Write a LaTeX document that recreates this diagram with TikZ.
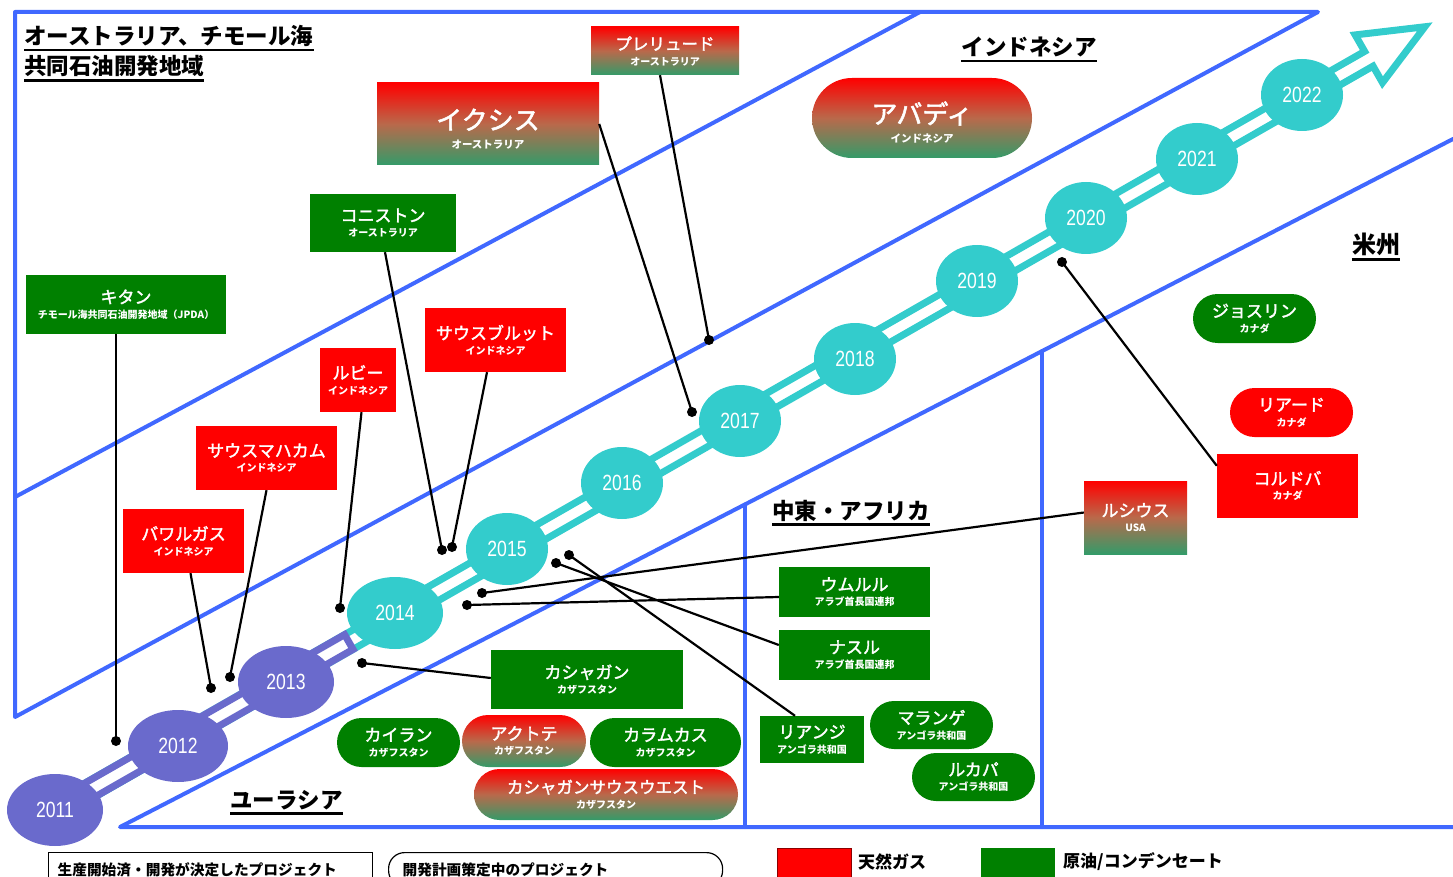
\documentclass[tikz,border=0pt]{standalone}
\usepackage{fontspec}
\setmainfont{Noto Sans CJK JP}
\newfontfamily\jpmed[FakeBold=2]{Noto Sans CJK JP}
\newfontfamily\yrfont[FakeStretch=0.8]{Liberation Sans}
\usetikzlibrary{shapes.geometric,shapes.misc,calc}
\definecolor{bl}{RGB}{64,104,255}
\definecolor{cy}{RGB}{51,204,204}
\definecolor{pu}{RGB}{106,106,204}
\definecolor{gasred}{RGB}{255,0,0}
\definecolor{oilgreen}{RGB}{0,128,0}
\definecolor{mixgreen}{RGB}{52,155,105}
\definecolor{mixmid}{RGB}{185,105,75}
\definecolor{dred}{RGB}{140,0,0}
\newcommand\plab[3][17]{{\jpmed\fontsize{#1}{#1}\selectfont #2}\\[3pt]{\bfseries\fontsize{10}{12}\selectfont #3}}
\newcommand\plabbig[2]{{\rule{0pt}{31pt}\jpmed\fontsize{26}{26}\selectfont #1}\\[7pt]{\bfseries\fontsize{10.5}{12}\selectfont #2}}
\newcommand\regfont{\bfseries\fontsize{22.5}{24}\selectfont}
\begin{document}
\begin{tikzpicture}[x=1pt,y=-1pt,
  blu/.style={draw=bl, line width=4pt, line cap=round, line join=round},
  bx/.style={inner sep=0pt, align=center, text=white},
  gas/.style={bx, fill=gasred},
  oil/.style={bx, fill=oilgreen},
  mix/.style={bx, top color=gasred, bottom color=mixgreen, middle color=mixmid},
  pill/.style={rounded rectangle},
  yrc/.style={ellipse, inner sep=0pt, text=white, minimum height=72pt, font=\yrfont\fontsize{22}{22}\selectfont},
  con/.style={draw=black, line width=2.2pt},
  reg/.style={inner sep=0pt, font=\regfont},
  ul/.style={draw=black, line width=2.2pt},
  lgbox/.style={draw=black, line width=1.2pt, minimum height=34pt, text width=306pt, inner ysep=0pt, align=left, anchor=north west, font=\bfseries\fontsize{14.7}{16}\selectfont},
  lgt/.style={inner sep=0pt, anchor=west, font=\bfseries\fontsize{17}{18}\selectfont}
]
\useasboundingbox (0,0) rectangle (1453,877);
\clip (0,0) rectangle (1453,877);

% region borders
\draw[blu] (920,12) -- (15,497);
\draw[blu] (1318,12) -- (15,12) -- (15,717) -- cycle;
\draw[blu] (1453,139) -- (120,827) -- (1453,827);
\draw[blu] (745,504.5) -- (745,827);
\draw[blu] (1042,351) -- (1042,827);

% timeline arrow
\begin{scope}[shift={(55,810)}, rotate=29.76]
  \draw[draw=cy, fill=white, line width=7pt, line join=miter]
    (-10,8.5) -- (1513.5,8.5) -- (1513.5,27.5) -- (1578,0) -- (1513.5,-27.5) -- (1513.5,-8.5) -- (-10,-8.5) -- cycle;
  \draw[draw=pu, fill=white, line width=7pt] (-10,8.5) rectangle (338.5,-8.5);
\end{scope}

\foreach \n/\x/\y/\c/\r in {2011/55/810/pu/48, 2012/178/746/pu/50, 2013/286/682/pu/48,
  2014/395/613/cy/48, 2015/507/549/cy/41, 2016/622/483/cy/41, 2017/740/421/cy/41,
  2018/855/359/cy/41, 2019/977/281/cy/41, 2020/1086/218/cy/41, 2021/1197/159/cy/41, 2022/1302/95/cy/41}
  \node[yrc, fill=\c, minimum width=2*\r] (y\n) at (\x,\y) {\n};

% region labels
\node[reg, anchor=base west] (t1) at (24,44.5) {オーストラリア、チモール海};
\node[reg, anchor=base west] (t2) at (24,75) {共同石油開発地域};
\node[reg, anchor=base] (t3) at (1029,55.5) {インドネシア};
\node[reg, anchor=base, font=\bfseries\fontsize{24}{26}\selectfont] (t4) at (1376,254) {米州};
\node[reg, anchor=base] (t5) at (851,519) {中東・アフリカ};
\node[reg, anchor=base] (t6) at (286.5,808) {ユーラシア};
\foreach \t in {t1,t2,t3,t4,t5,t6}
  \draw[ul] ([yshift=-5.5pt]\t.base west) -- ([yshift=-5.5pt]\t.base east);

% project boxes
\node[oil, minimum width=200, minimum height=59] (kitan) at (126,304.5) {\plab{キタン}{チモール海共同石油開発地域（JPDA）}};
\node[oil, minimum width=146, minimum height=58] (coniston) at (383,223) {\plab{コニストン}{オーストラリア}};
\node[mix, minimum width=222, minimum height=82] (ichthys) at (488,124) {\plabbig{イクシス}{オーストラリア}};
\node[mix, minimum width=148, minimum height=48] (prelude) at (665,51) {\plab[16.5]{プレリュード}{オーストラリア}};
\node[gas, minimum width=141, minimum height=64] (bulut) at (495.5,340) {\plab{サウスブルット}{インドネシア}};
\node[gas, minimum width=76, minimum height=64] (ruby) at (358,380) {\plab{ルビー}{インドネシア}};
\node[gas, minimum width=141, minimum height=64] (mahakam) at (266.5,458) {\plab{サウスマハカム}{インドネシア}};
\node[gas, minimum width=121, minimum height=64] (bawal) at (183.5,541) {\plab{バワルガス}{インドネシア}};
\node[mix, pill, minimum width=220, minimum height=80] (abadi) at (922,118) {\plabbig{アバディ}{インドネシア}};
\node[oil, pill, minimum width=123, minimum height=49] (jocelyn) at (1254.5,318.5) {\plab{ジョスリン}{カナダ}};
\node[gas, pill, minimum width=123, minimum height=49] (liard) at (1291.5,412.5) {\plab{リアード}{カナダ}};
\node[gas, minimum width=141, minimum height=64] (cordova) at (1287.5,486) {\plab{コルドバ}{カナダ}};
\node[mix, minimum width=103, minimum height=73] (lucius) at (1135.5,517.5) {\plab{ルシウス}{USA}};
\node[oil, minimum width=151, minimum height=50] (ummlulu) at (854.5,592) {\plab{ウムルル}{アラブ首長国連邦}};
\node[oil, minimum width=151, minimum height=50] (nasr) at (854.5,655) {\plab{ナスル}{アラブ首長国連邦}};
\node[oil, minimum width=104, minimum height=47] (liange) at (812,739.5) {\plab{リアンジ}{アンゴラ共和国}};
\node[oil, pill, minimum width=123, minimum height=48] (marange) at (931.5,725) {\plab{マランゲ}{アンゴラ共和国}};
\node[oil, pill, minimum width=123, minimum height=48] (lukapa) at (973.5,777) {\plab{ルカパ}{アンゴラ共和国}};
\node[oil, minimum width=192, minimum height=59] (kashagan) at (587,679.5) {\plab{カシャガン}{カザフスタン}};
\node[oil, pill, minimum width=123, minimum height=49] (kairan) at (398.5,742.5) {\plab{カイラン}{カザフスタン}};
\node[mix, pill, minimum width=124, minimum height=52] (aktote) at (524,741) {\plab{アクトテ}{カザフスタン}};
\node[oil, pill, minimum width=151, minimum height=49] (karamkas) at (665.5,742.5) {\plab{カラムカス}{カザフスタン}};
\node[mix, pill, minimum width=264, minimum height=51] (kashsw) at (606,794.5) {\plab[16.5]{カシャガンサウスウエスト}{カザフスタン}};

% connector end points
\coordinate (d1) at (116,741);
\coordinate (d2) at (442,550);
\coordinate (d3) at (692,412);
\coordinate (d4) at (709,340);
\coordinate (d5) at (452,547);
\coordinate (d6) at (340,608);
\coordinate (d7) at (230,677);
\coordinate (d8) at (211,688);
\coordinate (d9) at (1062,262);
\coordinate (d10) at (482,593);
\coordinate (d11) at (467,605);
\coordinate (d12) at (556,563);
\coordinate (d13) at (569,555);
\coordinate (d14) at (362,663);

\draw[con] ([xshift=-10pt]kitan.south) -- (d1);
\draw[con] ([xshift=2pt]coniston.south) -- (d2);
\draw[con] (ichthys.east) -- (d3);
\draw[con] ([xshift=-5pt]prelude.south) -- (d4);
\draw[con] ([xshift=-8.5pt]bulut.south) -- (d5);
\draw[con] ([xshift=3.5pt]ruby.south) -- (d6);
\draw[con] (mahakam.south) -- (d7);
\draw[con] ([xshift=7pt]bawal.south) -- (d8);
\draw[con] ([yshift=-12pt]cordova.north west) -- (d9);
\draw[con] ([yshift=5pt]lucius.west) -- (d10);
\draw[con] ([yshift=-5pt]ummlulu.west) -- (d11);
\draw[con] ([yshift=10pt]nasr.west) -- (d12);
\draw[con] ([xshift=-17pt]liange.north) -- (d13);
\draw[con] ([yshift=1.5pt]kashagan.west) -- (d14);
\foreach \d in {d1,d2,d3,d4,d5,d6,d7,d8,d9,d10,d11,d12,d13,d14}
  \fill[black] (\d) circle (5pt);

% legend
\node[lgbox, inner xsep=9pt] (lg1) at (48,852) {生産開始済・開発が決定したプロジェクト};
\node[lgbox, inner xsep=14pt, rounded corners=16pt] (lg2) at (388,852) {開発計画策定中のプロジェクト};
\node[fill=gasred, draw=dred, line width=1pt, minimum width=74, minimum height=40, inner sep=0pt, anchor=north west] (sw1) at (777,848) {};
\node[lgt] (lt1) at (858,862) {天然ガス};
\node[fill=oilgreen, minimum width=74, minimum height=40, inner sep=0pt, anchor=north west] (sw2) at (981,848) {};
\node[lgt] (lt2) at (1063,862) {原油/コンデンセート};
\end{tikzpicture}
\end{document}
